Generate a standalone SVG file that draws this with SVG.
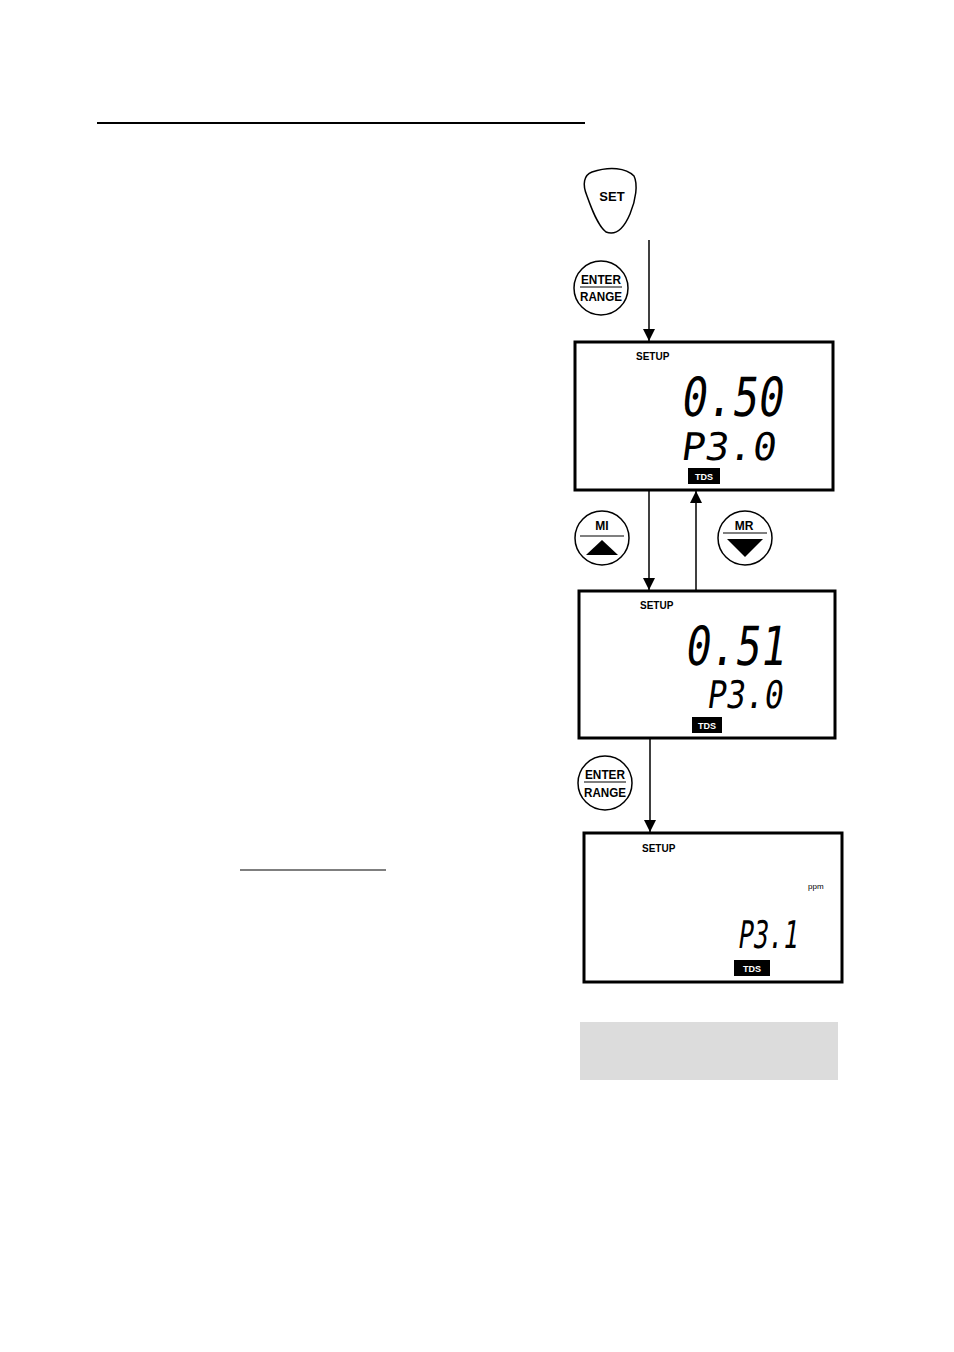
<svg xmlns="http://www.w3.org/2000/svg" width="954" height="1352" viewBox="0 0 954 1352">
<style>
.lcd{fill:#fff;stroke:#000;stroke-width:3}
.btn{fill:#fff;stroke:#000;stroke-width:1.5}
.lbl{font-family:"Liberation Sans",Arial,sans-serif;font-weight:bold;fill:#000}
.seg{font-family:"DejaVu Sans Mono",monospace;fill:#000}
.conn{stroke:#000;stroke-width:1.5;fill:none}
</style>
<defs>
<marker id="ah" viewBox="0 0 10 10" refX="10" refY="5" markerWidth="12" markerHeight="12" markerUnits="userSpaceOnUse" orient="auto"><path d="M0,0 L10,5 L0,10 z" fill="#000"/></marker>
</defs>
<rect width="954" height="1352" fill="#fff"/>
<line x1="97" y1="123" x2="585" y2="123" stroke="#000" stroke-width="2"/>
<line x1="240" y1="870" x2="386" y2="870" stroke="#000" stroke-width="1.2"/>
<g id="connectors">
<line class="conn" x1="649" y1="240" x2="649" y2="341" marker-end="url(#ah)"/>
<line class="conn" x1="649" y1="490" x2="649" y2="590" marker-end="url(#ah)"/>
<line class="conn" x1="696" y1="590" x2="696" y2="491" marker-end="url(#ah)"/>
<line class="conn" x1="650" y1="738" x2="650" y2="832" marker-end="url(#ah)"/>
</g>
<g id="set">
<path class="btn" d="M592,172 C610,166 626,168 634,176 C638,184 636,200 630,214 C624,228 616,236 606,232 C598,226 592,210 587,196 C582,184 584,175 592,172 Z"/>
<text class="lbl" x="612" y="201" font-size="13" text-anchor="middle">SET</text>
</g>
<g id="enter1">
<circle class="btn" cx="601" cy="288" r="27"/>
<text class="lbl" x="601" y="284" font-size="12" text-anchor="middle" textLength="40" lengthAdjust="spacingAndGlyphs">ENTER</text>
<line x1="580" y1="287" x2="622" y2="287" stroke="#000" stroke-width="1.2"/>
<text class="lbl" x="601" y="301" font-size="12" text-anchor="middle" textLength="42" lengthAdjust="spacingAndGlyphs">RANGE</text>
</g>
<g id="lcd1">
<rect class="lcd" x="575" y="342" width="258" height="148"/>
<text class="lbl" x="636" y="360" font-size="10">SETUP</text>
<text class="seg" transform="translate(680,416) skewX(-8)" font-size="54" textLength="102" lengthAdjust="spacingAndGlyphs">0.50</text>
<text class="seg" transform="translate(680,460) skewX(-8)" font-size="38" textLength="95" lengthAdjust="spacingAndGlyphs">P3.0</text>
<rect x="688" y="468" width="32" height="16" fill="#000"/>
<text x="704" y="480" font-size="9" text-anchor="middle" class="lbl" fill="#fff" style="fill:#fff">TDS</text>
</g>
<g id="mi">
<circle class="btn" cx="602" cy="538" r="27"/>
<text class="lbl" x="602" y="530" font-size="12" text-anchor="middle">MI</text>
<line x1="580" y1="536" x2="624" y2="536" stroke="#000" stroke-width="1.2"/>
<path d="M586,555 L602,540 L618,555 Z" fill="#000"/>
</g>
<g id="mr">
<circle class="btn" cx="745" cy="538" r="27"/>
<text class="lbl" x="744" y="530" font-size="12" text-anchor="middle">MR</text>
<line x1="723" y1="533" x2="767" y2="533" stroke="#000" stroke-width="1.2"/>
<path d="M727,539 L763,539 L745,557 Z" fill="#000"/>
</g>
<g id="lcd2">
<rect class="lcd" x="579" y="591" width="256" height="147"/>
<text class="lbl" x="640" y="609" font-size="10">SETUP</text>
<text class="seg" transform="translate(684,665) skewX(-8)" font-size="54" textLength="100" lengthAdjust="spacingAndGlyphs">0.51</text>
<text class="seg" transform="translate(706,708) skewX(-8)" font-size="38" textLength="76" lengthAdjust="spacingAndGlyphs">P3.0</text>
<rect x="692" y="717" width="30" height="16" fill="#000"/>
<text x="707" y="729" font-size="9" text-anchor="middle" class="lbl" style="fill:#fff">TDS</text>
</g>
<g id="enter2">
<circle class="btn" cx="605" cy="783" r="27"/>
<text class="lbl" x="605" y="779" font-size="12" text-anchor="middle" textLength="40" lengthAdjust="spacingAndGlyphs">ENTER</text>
<line x1="584" y1="782" x2="626" y2="782" stroke="#000" stroke-width="1.2"/>
<text class="lbl" x="605" y="797" font-size="12" text-anchor="middle" textLength="42" lengthAdjust="spacingAndGlyphs">RANGE</text>
</g>
<g id="lcd3">
<rect class="lcd" x="584" y="833" width="258" height="149"/>
<text class="lbl" x="642" y="852" font-size="10">SETUP</text>
<text x="808" y="889" font-size="8" font-family="Liberation Sans,Arial,sans-serif">ppm</text>
<text class="seg" transform="translate(737,948) skewX(-8)" font-size="38" textLength="60" lengthAdjust="spacingAndGlyphs">P3.1</text>
<rect x="734" y="960" width="36" height="16" fill="#000"/>
<text x="752" y="972" font-size="9" text-anchor="middle" class="lbl" style="fill:#fff">TDS</text>
</g>
<rect x="580" y="1022" width="258" height="58" fill="#dcdcdc"/>
</svg>
